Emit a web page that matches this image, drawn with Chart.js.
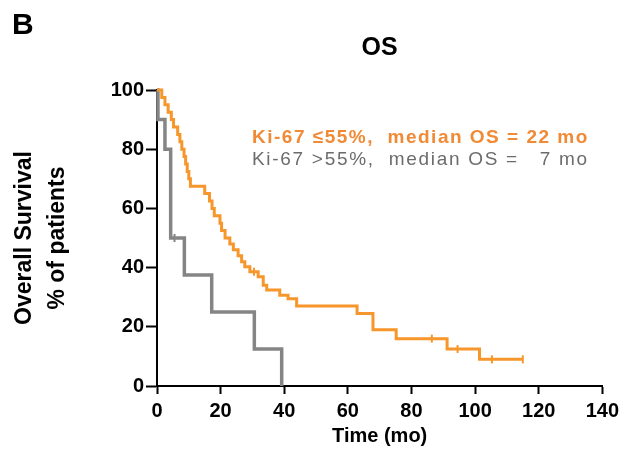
<!DOCTYPE html>
<html>
<head>
<meta charset="utf-8">
<title>OS</title>
<script src="https://cdn.jsdelivr.net/npm/chart.js"></script>
<style>
    html, body { margin: 0; padding: 0; background: #fff; }
    #wrap { width: 624px; height: 451px; position: relative; }
</style>
</head>
<body>
<div id="wrap"><canvas id="osChart"></canvas></div>
<script>
// Kaplan-Meier steps (time in months, % surviving)
const lowKiTime = [0, 1.5, 2.5, 3.5, 4.5, 5.2, 6.5, 7.2, 7.8, 8.5, 9, 9.5, 10, 10.5, 15, 16.5, 17.3, 18, 19.8, 20.3,
    21.4, 22.9, 24, 25.5, 26.6, 27.6, 29.2, 31.8, 33.4, 34.5, 38.6, 41.2, 43.9, 62.9, 67.9, 75.2, 91.2, 101.4, 115];
const lowKiSurv = [100, 97.5, 95, 92.5, 90, 87.5, 85, 82.5, 80, 77.5, 75, 72.5, 70, 67.5, 65, 62.5, 60, 57.5, 55, 52.5,
    50, 48, 46, 44, 42, 40.3, 38.6, 36.9, 34, 32.4, 30.7, 29.5, 27, 24.5, 19, 16, 12.5, 9, 9];
const lowKiCensorTime = [30.5, 86.4, 94.5, 105.3, 115];
const lowKiCensorSurv = [38.6, 16, 12.5, 9, 9];

const highKiTime = [0, 0.3, 2.5, 4.3, 8.6, 17.2, 30.6, 39.2];
const highKiSurv = [100, 90, 80, 50, 37.5, 25, 12.5, 0];
const highKiCensorTime = [5.5];
const highKiCensorSurv = [50];

const xTickValues = [0, 20, 40, 60, 80, 100, 120, 140];
const yTickValues = [0, 20, 40, 60, 80, 100];
const legendLabels = ['Ki-67 \u226455%,  median OS = 22 mo', 'Ki-67 >55%,  median OS =   7 mo'];

const ORANGE = '#f7962a';
const GREY = '#858585';
const FONT = '"Liberation Sans", Arial, sans-serif';

const toPoints = (xs, ys) => xs.map((x, i) => ({ x: x, y: ys[i] }));

// panel letter + inline legend text
const annotations = {
    id: 'annotations',
    afterDraw(chart) {
        const ctx = chart.ctx;
        ctx.save();
        ctx.textBaseline = 'alphabetic';
        ctx.textAlign = 'left';
        ctx.fillStyle = '#000';
        ctx.font = 'bold 30px ' + FONT;
        ctx.fillText('B', 12, 34);

        // the original lettering is loosely tracked
        if ('letterSpacing' in ctx) ctx.letterSpacing = '1.5px';
        ctx.font = 'bold 19px ' + FONT;
        ctx.fillStyle = '#f08a35';
        ctx.fillText(legendLabels[0], 252, 143);
        if ('letterSpacing' in ctx) ctx.letterSpacing = '1.7px';
        ctx.font = '19px ' + FONT;
        ctx.fillStyle = '#6c6c6c';
        ctx.fillText(legendLabels[1], 252, 165);
        ctx.restore();
    }
};

new Chart(document.getElementById('osChart'), {
    type: 'line',
    data: {
        datasets: [{
            label: legendLabels[0],
            data: toPoints(lowKiTime, lowKiSurv),
            borderColor: ORANGE,
            borderWidth: 3,
            stepped: true,
            pointRadius: 0,
            clip: false
        }, {
            label: legendLabels[1],
            data: toPoints(highKiTime, highKiSurv),
            borderColor: GREY,
            borderWidth: 3.5,
            stepped: true,
            pointRadius: 0,
            clip: false
        }, {
            type: 'scatter',
            data: toPoints(lowKiCensorTime, lowKiCensorSurv),
            showLine: false,
            pointStyle: 'line',
            rotation: 90,
            pointRadius: 4,
            borderWidth: 2,
            borderColor: ORANGE,
            clip: false
        }, {
            type: 'scatter',
            data: toPoints(highKiCensorTime, highKiCensorSurv),
            showLine: false,
            pointStyle: 'line',
            rotation: 90,
            pointRadius: 4,
            borderWidth: 2,
            borderColor: GREY,
            clip: false
        }]
    },
    options: {
        responsive: true,
        maintainAspectRatio: false,
        animation: false,
        layout: { padding: { left: 0, right: 20, top: 0, bottom: 0 } },
        plugins: {
            legend: { display: false },
            tooltip: { enabled: false },
            title: {
                display: true,
                text: 'OS',
                fullSize: false,
                color: '#000',
                font: { family: FONT, size: 25, weight: 'bold', lineHeight: 1.2 },
                padding: { top: 33, bottom: 27 }
            }
        },
        scales: {
            x: {
                type: 'linear',
                min: 0,
                max: 140,
                afterBuildTicks: axis => { axis.ticks = xTickValues.map(v => ({ value: v })); },
                afterFit: scale => { scale.height = 65; },
                border: { color: '#000', width: 2 },
                grid: { drawOnChartArea: false, drawTicks: true, tickLength: 8, tickColor: '#000', tickWidth: 2 },
                ticks: { color: '#000', padding: 5, font: { family: FONT, size: 20, weight: 'bold' }, maxRotation: 0 },
                title: {
                    display: true,
                    text: 'Time (mo)',
                    color: '#000',
                    font: { family: FONT, size: 20, weight: 'bold', lineHeight: 1.2 },
                    padding: { top: 0, bottom: 3 }
                }
            },
            y: {
                min: 0,
                max: 100,
                afterBuildTicks: axis => { axis.ticks = yTickValues.map(v => ({ value: v })); },
                afterFit: scale => { scale.width = 157; },
                border: { color: '#000', width: 2 },
                grid: { drawOnChartArea: false, drawTicks: true, tickLength: 11, tickColor: '#000', tickWidth: 2 },
                ticks: { color: '#000', padding: 2, font: { family: FONT, size: 20, weight: 'bold' } },
                title: {
                    display: true,
                    text: ['Overall Survival', '% of patients'],
                    color: '#000',
                    font: { family: FONT, size: 23, weight: 'bold', lineHeight: 1.4 },
                    padding: { top: 9, bottom: 0 }
                }
            }
        }
    },
    plugins: [annotations]
});
</script>
</body>
</html>
